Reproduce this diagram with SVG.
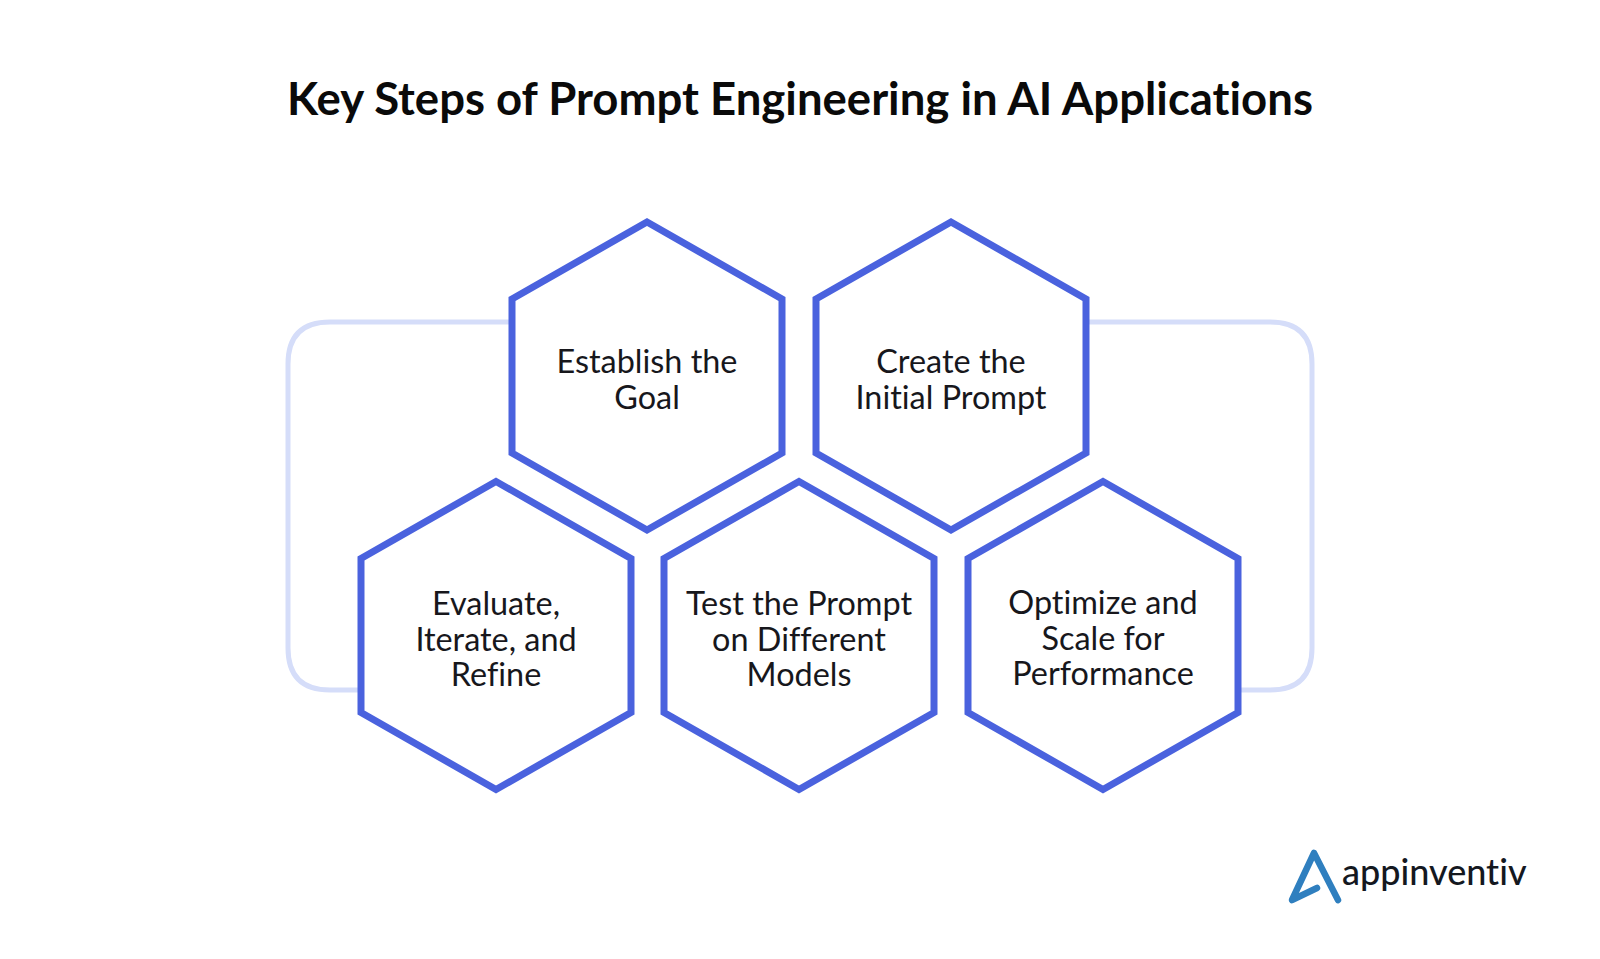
<svg xmlns="http://www.w3.org/2000/svg" width="1600" height="959" viewBox="0 0 1600 959">
<style>
text{font-variant-ligatures:none}
.t{font-family:"Lato","Liberation Sans",sans-serif;font-size:32.4px;fill:#17171c;text-anchor:middle}
.h{fill:#fff;stroke:#4a62de;stroke-width:7;stroke-linejoin:miter}
.c{fill:none;stroke:#d5ddf9;stroke-width:5}
</style>
<rect width="1600" height="959" fill="#fff"/>
<text x="800" y="115" font-family="Lato,'Liberation Sans',sans-serif" font-size="45.5" font-weight="700" fill="#0a0a0a" text-anchor="middle">Key Steps of Prompt Engineering in AI Applications</text>
<g id="connectors">
<path class="c" d="M512 322H330Q288 322 288 364V648Q288 690 330 690H361"/>
<path class="c" d="M1086 322H1270Q1312 322 1312 364V648Q1312 690 1270 690H1239"/>
</g>
<g id="n1"><polygon class="h" points="647,222 782,299 782,453 647,530 512,453 512,299"/><text class="t"><tspan x="647" y="373">Establish the</tspan><tspan x="647" y="408.500">Goal</tspan></text></g>
<g id="n2"><polygon class="h" points="951,222 1086,299 1086,453 951,530 816,453 816,299"/><text class="t"><tspan x="951" y="373">Create the</tspan><tspan x="951" y="408.500">Initial Prompt</tspan></text></g>
<g id="n3"><polygon class="h" points="496,481.500 631,558.500 631,712.500 496,789.500 361,712.500 361,558.500"/><text class="t"><tspan x="496" y="615">Evaluate,</tspan><tspan x="496" y="650.500">Iterate, and</tspan><tspan x="496" y="686">Refine</tspan></text></g>
<g id="n4"><polygon class="h" points="799,481.500 934,558.500 934,712.500 799,789.500 664,712.500 664,558.500"/><text class="t"><tspan x="799" y="615">Test the Prompt</tspan><tspan x="799" y="650.500">on Different</tspan><tspan x="799" y="686">Models</tspan></text></g>
<g id="n5"><polygon class="h" points="1103,481.500 1238,558.500 1238,712.500 1103,789.500 968,712.500 968,558.500"/><text class="t"><tspan x="1103" y="614">Optimize and</tspan><tspan x="1103" y="649.500">Scale for</tspan><tspan x="1103" y="685">Performance</tspan></text></g>
<g id="logo">
<path d="M1317 888L1292 900L1314 853L1338 900" fill="none" stroke="#2f7fbf" stroke-width="6.5" stroke-linejoin="round" stroke-linecap="round"/>
<text x="1342" y="885" font-family="Lato,'Liberation Sans',sans-serif" font-size="36" font-weight="500" fill="#14181f">appinventiv</text>
</g>
</svg>
